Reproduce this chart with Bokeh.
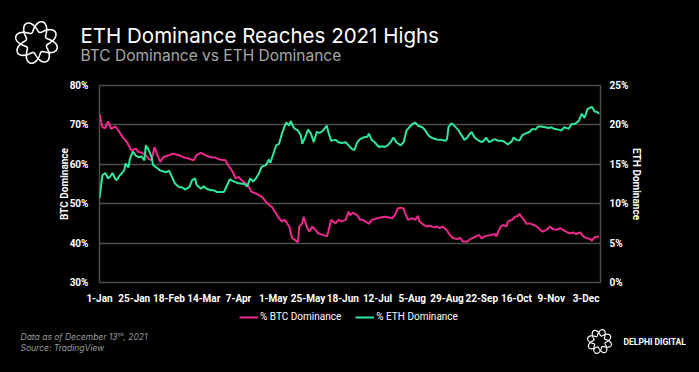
import numpy as np
import pandas as pd
from bokeh.plotting import figure
from bokeh.layouts import column
from bokeh.models import Range1d, LinearAxis, FixedTicker, Legend, LegendItem
from bokeh.core.properties import value
from bokeh.embed import file_html
from bokeh.resources import INLINE

# ---------------- data (days since 1-Jan-2021, dominance %) ----------------
btc_days = [0, 2, 4, 6, 8, 11, 13, 16, 19, 22, 25, 27, 29, 32, 34, 36, 38, 40, 42, 44,
            48, 51, 55, 58, 62, 65, 67, 70, 73, 77, 80, 83, 87, 89, 92, 94, 96, 98, 101,
            103, 105, 108, 110, 112, 115, 117, 119, 121, 124, 126, 128, 131, 133, 135,
            137, 138, 140, 141, 143, 145, 147, 149, 151, 154, 157, 158, 160, 163, 165,
            167, 170, 172, 173, 175, 178, 180, 182, 186, 188, 192, 195, 198, 202, 204,
            206, 208, 210, 211, 213, 216, 218, 220, 221, 224, 226, 228, 231, 233, 235,
            237, 240, 242, 244, 247, 249, 251, 254, 256, 259, 262, 264, 266, 268, 271,
            273, 274, 277, 279, 281, 282, 285, 287, 289, 290, 293, 295, 297, 300, 302,
            304, 306, 309, 311, 313, 316, 318, 320, 323, 325, 327, 329, 332, 334, 336,
            339, 340, 342, 345]
btc_dom = [72.8, 69.4, 69.2, 70.9, 69.0, 69.6, 68.6, 66.9, 65.6, 63.5, 64.0, 63.1, 63.0,
           62.3, 61.4, 61.0, 64.4, 62.3, 60.6, 61.8, 62.3, 62.7, 62.3, 61.8, 61.4, 61.0,
           62.3, 62.9, 62.3, 61.8, 61.7, 61.2, 61.0, 59.7, 58.1, 56.4, 56.8, 56.0, 55.1,
           54.3, 53.0, 52.6, 52.2, 51.8, 50.5, 49.7, 49.2, 48.0, 46.3, 45.5, 45.9, 44.2,
           41.3, 40.8, 40.2, 44.2, 45.0, 46.7, 44.2, 42.9, 44.2, 43.4, 42.5, 42.1, 41.7,
           42.9, 45.9, 45.0, 45.9, 45.5, 45.9, 48.0, 47.1, 47.7, 47.1, 45.9, 45.9, 44.9,
           45.9, 46.3, 46.6, 46.7, 46.3, 47.1, 48.8, 49.0, 48.8, 47.6, 45.9, 46.3, 45.9,
           46.9, 45.5, 44.6, 44.2, 44.4, 44.0, 44.2, 43.8, 44.2, 43.2, 42.1, 41.3, 41.0,
           41.3, 40.4, 40.4, 41.0, 41.5, 42.1, 41.2, 41.7, 41.9, 42.1, 42.3, 41.7, 44.2,
           44.6, 44.2, 45.5, 45.9, 46.7, 46.9, 47.4, 45.9, 44.9, 45.0, 44.6, 44.2, 43.5,
           42.9, 43.4, 44.2, 43.5, 43.4, 43.8, 43.4, 42.7, 42.5, 42.7, 42.3, 42.7, 41.7,
           41.3, 41.0, 40.6, 41.5, 41.7]

eth_days = [0, 1, 2, 4, 6, 8, 9, 11, 12, 14, 17, 18, 20, 21, 23, 25, 27, 29, 31, 32, 34,
            36, 37, 40, 42, 46, 48, 50, 52, 55, 57, 59, 62, 64, 66, 67, 70, 72, 74, 77,
            79, 81, 83, 86, 87, 90, 93, 96, 100, 102, 104, 106, 108, 110, 112, 115, 117,
            118, 120, 122, 124, 126, 128, 129, 131, 132, 134, 135, 137, 139, 140, 142,
            144, 146, 148, 150, 152, 154, 157, 158, 160, 163, 165, 167, 170, 172, 174,
            176, 178, 180, 182, 185, 186, 188, 190, 193, 195, 197, 199, 201, 203, 205,
            208, 210, 212, 214, 216, 218, 220, 223, 225, 227, 229, 232, 234, 236, 239,
            240, 241, 243, 245, 247, 248, 250, 252, 254, 255, 257, 259, 262, 264, 266,
            267, 269, 271, 273, 275, 278, 280, 282, 285, 286, 288, 290, 292, 294, 297,
            299, 301, 303, 305, 308, 310, 312, 314, 317, 319, 321, 324, 326, 328, 331,
            333, 335, 337, 339, 340, 342, 344, 345]
eth_dom = [10.7, 12.1, 13.6, 13.9, 13.2, 13.6, 13.9, 13.1, 13.0, 13.6, 14.2, 15.1, 14.6,
           15.7, 16.6, 16.1, 15.9, 16.0, 15.5, 17.4, 16.8, 15.9, 14.9, 14.5, 14.2, 14.0,
           14.2, 13.4, 12.6, 12.1, 12.1, 11.8, 12.1, 13.0, 13.2, 12.4, 11.9, 12.2, 11.9,
           11.7, 11.7, 11.5, 11.5, 11.5, 11.9, 13.1, 12.8, 12.6, 12.5, 12.2, 13.2, 12.8,
           13.2, 13.8, 14.7, 14.9, 15.6, 15.2, 16.3, 17.4, 17.6, 18.9, 19.9, 20.3, 19.9,
           20.5, 19.7, 19.5, 19.3, 18.7, 17.6, 18.4, 19.4, 18.9, 17.8, 19.1, 19.0, 19.2,
           19.9, 19.1, 18.0, 18.1, 17.8, 17.7, 17.8, 17.4, 17.0, 16.8, 17.8, 18.2, 18.4,
           18.5, 18.9, 18.1, 17.8, 17.2, 17.3, 17.2, 17.4, 17.8, 18.4, 17.8, 17.4, 17.8,
           19.3, 19.7, 20.1, 20.3, 19.9, 19.7, 19.3, 18.7, 18.4, 18.2, 18.1, 18.1, 18.0,
           18.2, 19.7, 20.2, 19.9, 19.5, 19.3, 18.7, 18.1, 18.4, 18.7, 19.1, 18.4, 18.0,
           17.8, 18.1, 18.4, 17.8, 18.0, 18.2, 18.0, 18.0, 17.8, 17.5, 18.0, 18.4, 18.1,
           18.0, 18.7, 18.9, 19.1, 19.5, 19.4, 19.8, 19.8, 19.7, 19.6, 19.7, 19.5, 19.4,
           19.3, 19.7, 19.5, 20.1, 20.1, 20.5, 21.4, 20.9, 22.0, 22.2, 22.3, 21.7, 21.6,
           21.4]

tick_labels = ["1-Jan", "25-Jan", "18-Feb", "14-Mar", "7-Apr", "1-May", "25-May",
               "18-Jun", "12-Jul", "5-Aug", "29-Aug", "22-Sep", "16-Oct", "9-Nov", "3-Dec"]
btc_ticks = [30, 40, 50, 60, 70, 80]
eth_ticks = [0, 5, 10, 15, 20, 25]
last_day = "13-Dec"
series_names = ["% BTC Dominance", "% ETH Dominance"]

title_text = "ETH Dominance Reaches 2021 Highs"
subtitle_text = "BTC Dominance vs ETH Dominance"
note_text = "Data as of December 13\u1d57\u02b0, 2021"
source_text = "Source: TradingView"
brand_text = "DELPHI DIGITAL"

# ---------------- derived ----------------
start = pd.Timestamp("2021-01-01")
tick_days = [(pd.to_datetime(t + "-2021", format="%d-%b-%Y") - start).days for t in tick_labels]
end_day = (pd.to_datetime(last_day + "-2021", format="%d-%b-%Y") - start).days

BTC_C = "#ec2a8c"
ETH_C = "#31e69d"
GRID_C = "#4d4d4d"
FONT = "Inter"
TICK_FONT = "Roboto"
W = 699
H_HEAD, H_MAIN, H_FOOT = 78, 229, 65


def blank(height):
    f = figure(width=W, height=height, output_backend="svg", toolbar_location=None,
               x_range=Range1d(0, W), y_range=Range1d(height, 0),
               x_axis_location=None, y_axis_location=None, frame_align=False,
               min_border=0, background_fill_color="black", border_fill_color="black",
               outline_line_color=None)
    f.grid.visible = False
    return f


def logo(f, cx, cy, R, A, lw):
    # decorative ring: two interwoven wavy circles forming 8 links
    t = np.linspace(0, 2 * np.pi, 241)
    xs, ys = [], []
    for sgn in (1, -1):
        r = R + sgn * A * np.sin(4 * t + 0.4)
        xs.append(list(cx + r * np.cos(t)))
        ys.append(list(cy + r * np.sin(t)))
    f.multi_line(xs, ys, line_color="white", line_width=lw)


# ---------------- header ----------------
head = blank(H_HEAD)
logo(head, 36, 42, 16, 5.5, 1.6)
head.text(x=[80], y=[35], text=[title_text], text_font=value(FONT), text_font_size="20.5px",
          text_color="white", text_baseline="middle")
head.text(x=[80], y=[55], text=[subtitle_text], text_font=value(FONT), text_font_size="15.5px",
          text_color="#a8a8a8", text_baseline="middle")

# ---------------- main chart ----------------
p = figure(width=W, height=H_MAIN, output_backend="svg", toolbar_location=None,
           x_range=Range1d(0, end_day), y_range=Range1d(btc_ticks[0], btc_ticks[-1]),
           min_border_left=99, min_border_right=99, min_border_top=7, min_border_bottom=25,
           frame_align=False,
           background_fill_color="black", border_fill_color="black",
           outline_line_color=GRID_C, outline_line_width=1.5)
p.extra_y_ranges = {"eth": Range1d(eth_ticks[0], eth_ticks[-1])}

p.line(btc_days, btc_dom, line_color=BTC_C, line_width=2)
p.line(eth_days, eth_dom, line_color=ETH_C, line_width=2, y_range_name="eth")

p.xaxis.ticker = FixedTicker(ticks=tick_days)
p.xaxis.major_label_overrides = {d: t for d, t in zip(tick_days, tick_labels)}
p.yaxis.ticker = FixedTicker(ticks=btc_ticks)
p.yaxis.major_label_overrides = {v: f"{v}%" for v in btc_ticks}
p.yaxis.axis_label = "BTC Dominance"

eth_axis = LinearAxis(y_range_name="eth", ticker=FixedTicker(ticks=eth_ticks),
                      axis_label="ETH Dominance")
eth_axis.major_label_overrides = {v: f"{v}%" for v in eth_ticks}
p.add_layout(eth_axis, "right")

for ax in p.axis:
    ax.axis_line_color = None
    ax.major_tick_line_color = None
    ax.minor_tick_line_color = None
    ax.major_tick_out = 0
    ax.major_tick_in = 0
    ax.minor_tick_out = 0
    ax.minor_tick_in = 0
    ax.major_label_text_color = "white"
    ax.major_label_text_font = TICK_FONT
    ax.major_label_text_font_size = "10px"
    ax.major_label_text_font_style = "bold"
    ax.axis_label_text_color = "white"
    ax.axis_label_text_font = TICK_FONT
    ax.axis_label_text_font_size = "10px"
    ax.axis_label_text_font_style = "bold"
p.xaxis.major_label_standoff = 10
p.yaxis.major_label_standoff = 11
eth_axis.major_label_standoff = 9
p.yaxis.axis_label_standoff = -3
eth_axis.axis_label_standoff = 0

p.xgrid.grid_line_color = None
p.ygrid.grid_line_color = GRID_C
p.ygrid.grid_line_width = 1.5

# ---------------- footer (legend + notes) ----------------
foot = blank(H_FOOT)
# legend keys: same styling as the chart lines, drawn off-canvas
k_btc = foot.line([-20, -10], [-20, -20], line_color=BTC_C, line_width=2)
k_eth = foot.line([-20, -10], [-20, -20], line_color=ETH_C, line_width=2)
legend = Legend(items=[LegendItem(label=series_names[0], renderers=[k_btc]),
                       LegendItem(label=series_names[1], renderers=[k_eth])],
                orientation="horizontal", location=(239, H_FOOT - 15),
                background_fill_alpha=0, border_line_color=None,
                label_text_color="white", label_text_font=TICK_FONT,
                label_text_font_size="10px", glyph_width=19, glyph_height=10,
                spacing=14, label_standoff=2, padding=2, margin=0)
foot.add_layout(legend, "center")

foot.text(x=[20, 20], y=[29, 40], text=[note_text, source_text], text_font=value(FONT),
          text_font_size="8.5px", text_font_style="italic", text_color="#9a9a9a",
          text_baseline="middle")
logo(foot, 599, 34, 9, 3.3, 1.2)
foot.text(x=[623], y=[34], text=[brand_text], text_font=value(TICK_FONT),
          text_font_size="8.5px", text_font_style="bold", text_color="white",
          text_baseline="middle")

layout = column(head, p, foot, spacing=0)
html = file_html(layout, INLINE)
html = html.replace("<head>", "<head><style>html,body{background:#000;}</style>", 1)
open("out.html", "w").write(html)
